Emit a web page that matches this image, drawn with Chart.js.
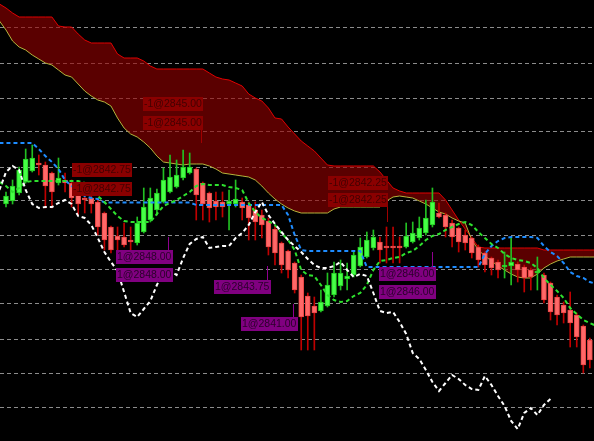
<!DOCTYPE html>
<html>
<head>
<meta charset="utf-8">
<script src="https://cdn.jsdelivr.net/npm/chart.js@4.4.1/dist/chart.umd.min.js"></script>
<style>
  html, body { margin: 0; padding: 0; background: #000; }
  #wrap { width: 594px; height: 441px; }
</style>
</head>
<body>
<div id="wrap"><canvas id="chart" width="594" height="441"></canvas></div>
<script>
// Candles (one per bar, index 0..89)
const open = [2845.92, 2845.98, 2846.14, 2846.36, 2846.58, 2846.74, 2846.70, 2846.54, 2846.34, 2846.40,
  2846.34, 2846.10, 2846.04, 2846.04, 2845.96, 2845.74, 2845.46, 2845.28, 2845.26, 2845.20,
  2845.14, 2845.36, 2845.60, 2845.80, 2845.96, 2846.16, 2846.26, 2846.44, 2846.54, 2846.62,
  2846.34, 2846.14, 2845.98, 2845.96, 2845.92, 2845.92, 2845.96, 2845.90, 2845.80, 2845.70,
  2845.58, 2845.42, 2845.14, 2844.98, 2844.74, 2844.46, 2844.08, 2843.88, 2843.78, 2843.88,
  2844.10, 2844.28, 2844.42, 2844.50, 2844.68, 2844.86, 2845.04, 2845.16, 2845.08, 2845.08,
  2845.08, 2845.06, 2845.16, 2845.24, 2845.34, 2845.50, 2845.74, 2845.70, 2845.54, 2845.44,
  2845.30, 2845.24, 2845.06, 2844.94, 2844.84, 2844.76, 2844.66, 2844.68, 2844.72, 2844.66,
  2844.60, 2844.54, 2844.50, 2844.34, 2844.06, 2843.90, 2843.80, 2843.70, 2843.48, 2843.20];
const high = [2846.16, 2846.40, 2846.66, 2847.02, 2847.10, 2846.90, 2846.76, 2846.56, 2846.84, 2846.54,
  2846.40, 2846.20, 2846.16, 2846.10, 2846.04, 2845.76, 2845.48, 2845.46, 2845.54, 2845.46,
  2845.66, 2846.24, 2846.24, 2846.22, 2846.64, 2846.90, 2846.80, 2847.00, 2846.94, 2846.64,
  2846.36, 2846.16, 2846.16, 2846.16, 2846.20, 2846.40, 2846.04, 2845.96, 2845.96, 2845.80,
  2845.64, 2845.48, 2845.16, 2845.00, 2844.76, 2844.50, 2844.14, 2844.06, 2844.20, 2844.54,
  2844.76, 2844.80, 2844.74, 2844.96, 2845.24, 2845.36, 2845.40, 2845.26, 2845.46, 2845.46,
  2845.26, 2845.54, 2845.56, 2845.66, 2846.00, 2846.24, 2845.94, 2845.74, 2845.60, 2845.46,
  2845.40, 2845.26, 2845.10, 2844.96, 2844.86, 2844.80, 2844.96, 2845.24, 2844.76, 2844.70,
  2844.64, 2844.86, 2844.54, 2844.36, 2844.10, 2843.96, 2844.16, 2843.74, 2843.50, 2843.24];
const low = [2845.86, 2845.92, 2846.10, 2846.34, 2846.56, 2846.50, 2845.84, 2845.84, 2846.30, 2846.16,
  2845.86, 2845.70, 2845.74, 2845.74, 2845.30, 2845.00, 2844.94, 2844.94, 2845.06, 2845.00,
  2845.10, 2845.34, 2845.56, 2845.70, 2845.94, 2846.14, 2846.24, 2846.40, 2846.52, 2845.60,
  2845.60, 2845.56, 2845.60, 2845.66, 2845.40, 2845.86, 2845.60, 2845.20, 2845.20, 2845.24,
  2844.90, 2844.70, 2844.54, 2844.44, 2844.14, 2843.00, 2843.00, 2843.00, 2843.76, 2843.86,
  2844.06, 2844.20, 2844.20, 2844.46, 2844.66, 2844.84, 2845.00, 2844.74, 2844.74, 2844.74,
  2844.74, 2845.04, 2845.14, 2845.20, 2845.30, 2845.46, 2845.64, 2845.26, 2845.06, 2844.96,
  2845.00, 2844.84, 2844.66, 2844.56, 2844.50, 2844.44, 2844.44, 2844.30, 2844.36, 2844.16,
  2844.20, 2844.20, 2843.94, 2843.60, 2843.50, 2843.54, 2843.06, 2843.06, 2842.54, 2842.64];
const close = [2846.08, 2846.28, 2846.60, 2846.82, 2846.84, 2846.70, 2846.28, 2846.16, 2846.44, 2846.34,
  2846.04, 2845.92, 2846.00, 2845.92, 2845.46, 2845.20, 2845.00, 2845.20, 2845.10, 2845.16,
  2845.54, 2845.86, 2846.04, 2846.14, 2846.40, 2846.46, 2846.50, 2846.66, 2846.66, 2846.10,
  2845.92, 2845.84, 2845.86, 2845.86, 2845.98, 2846.02, 2845.84, 2845.64, 2845.56, 2845.50,
  2845.06, 2844.94, 2844.70, 2844.60, 2844.20, 2843.66, 2843.68, 2843.74, 2843.96, 2844.30,
  2844.54, 2844.54, 2844.48, 2844.90, 2845.06, 2845.20, 2845.26, 2845.00, 2845.04, 2845.04,
  2845.04, 2845.28, 2845.34, 2845.44, 2845.64, 2845.96, 2845.66, 2845.46, 2845.26, 2845.16,
  2845.14, 2844.94, 2844.80, 2844.70, 2844.64, 2844.60, 2844.70, 2844.76, 2844.60, 2844.44,
  2844.46, 2844.56, 2844.00, 2843.76, 2843.70, 2843.74, 2843.54, 2843.26, 2842.70, 2842.80];

// Ichimoku lines, first value sits at bar index -1
const lineStart = -1;
const tenkan = [2846.36, 2846.28, 2846.16, 2846.24, 2846.36, 2846.38, 2846.38, 2846.38, 2846.38, 2846.38,
  2846.38, 2846.38, 2846.38, 2846.34, 2846.20, 2846.08, 2845.96, 2845.82, 2845.68, 2845.58,
  2845.56, 2845.56, 2845.56, 2845.56, 2845.72, 2845.88, 2845.94, 2846.00, 2846.08, 2846.16,
  2846.28, 2846.32, 2846.30, 2846.30, 2846.30, 2846.26, 2846.24, 2846.20, 2845.94, 2845.76,
  2845.64, 2845.58, 2845.50, 2845.34, 2845.20, 2845.00, 2844.60, 2844.50, 2844.48, 2844.30,
  2844.10, 2844.00, 2843.96, 2843.98, 2844.08, 2844.14, 2844.30, 2844.60, 2844.78, 2844.80,
  2844.84, 2844.86, 2844.94, 2844.98, 2845.08, 2845.20, 2845.28, 2845.32, 2845.40, 2845.46,
  2845.52, 2845.56, 2845.50, 2845.36, 2845.24, 2845.12, 2845.04, 2844.92, 2844.84, 2844.80,
  2844.78, 2844.74, 2844.64, 2844.44, 2844.30, 2844.18, 2844.04, 2843.84, 2843.72, 2843.60,
  2843.54, 2843.48];
const kijun = [2847.14, 2847.14, 2847.14, 2847.14, 2847.14, 2847.14, 2847.02, 2846.88, 2846.76, 2846.62,
  2846.40, 2846.28, 2846.18, 2846.08, 2846.04, 2846.02, 2845.95, 2845.95, 2845.95, 2845.95,
  2845.95, 2845.95, 2845.95, 2845.95, 2845.95, 2845.95, 2845.95, 2845.95, 2845.95, 2845.95,
  2845.90, 2845.90, 2845.90, 2845.90, 2845.90, 2845.90, 2845.90, 2845.90, 2845.90, 2845.90,
  2845.90, 2845.90, 2845.90, 2845.90, 2845.70, 2845.30, 2845.00, 2844.98, 2844.98, 2844.98,
  2844.98, 2844.98, 2844.98, 2844.98, 2844.98, 2844.98, 2844.66, 2844.66, 2844.66, 2844.66,
  2844.66, 2844.66, 2844.66, 2844.66, 2844.66, 2844.66, 2844.66, 2844.66, 2844.66, 2844.66,
  2844.66, 2844.66, 2844.66, 2844.66, 2844.92, 2845.08, 2845.18, 2845.24, 2845.26, 2845.26,
  2845.26, 2845.26, 2845.24, 2845.08, 2844.96, 2844.88, 2844.74, 2844.56, 2844.48, 2844.44,
  2844.36, 2844.32];
const senkouA = [2849.92, 2849.84, 2849.74, 2849.66, 2849.66, 2849.66, 2849.66, 2849.66, 2849.66, 2849.48,
  2849.46, 2849.46, 2849.32, 2849.20, 2849.14, 2849.14, 2849.14, 2849.14, 2848.92, 2848.84,
  2848.84, 2848.84, 2848.78, 2848.68, 2848.62, 2848.62, 2848.62, 2848.62, 2848.62, 2848.62,
  2848.62, 2848.62, 2848.54, 2848.46, 2848.42, 2848.40, 2848.34, 2848.28, 2848.12, 2848.04,
  2847.98, 2847.84, 2847.64, 2847.62, 2847.46, 2847.32, 2847.18, 2847.08, 2846.98, 2846.84,
  2846.70, 2846.68, 2846.68, 2846.68, 2846.68, 2846.68, 2846.68, 2846.68, 2846.56, 2846.40,
  2846.24, 2846.18, 2846.14, 2846.14, 2846.14, 2846.14, 2846.14, 2846.14, 2846.00, 2845.80,
  2845.60, 2845.42, 2845.24, 2845.06, 2845.04, 2845.04, 2845.04, 2845.04, 2845.04, 2845.04,
  2845.04, 2845.04, 2845.04, 2845.00, 2845.00, 2845.00, 2845.00, 2845.00, 2845.00, 2845.00,
  2845.00, 2845.00];
const senkouB = [2849.58, 2849.40, 2849.18, 2849.06, 2849.00, 2848.90, 2848.82, 2848.74, 2848.70, 2848.60,
  2848.50, 2848.46, 2848.32, 2848.18, 2848.08, 2848.00, 2847.96, 2847.88, 2847.64, 2847.44,
  2847.32, 2847.26, 2847.16, 2847.04, 2846.88, 2846.76, 2846.74, 2846.72, 2846.70, 2846.72,
  2846.72, 2846.72, 2846.68, 2846.62, 2846.54, 2846.52, 2846.50, 2846.48, 2846.46, 2846.40,
  2846.28, 2846.14, 2846.02, 2845.92, 2845.84, 2845.78, 2845.74, 2845.74, 2845.74, 2845.74,
  2845.74, 2845.82, 2845.86, 2845.86, 2845.86, 2845.86, 2845.86, 2845.86, 2845.86, 2845.98,
  2846.06, 2846.08, 2846.06, 2846.04, 2845.98, 2845.92, 2845.84, 2845.76, 2845.72, 2845.64,
  2845.58, 2845.54, 2845.20, 2845.00, 2844.88, 2844.78, 2844.68, 2844.60, 2844.52, 2844.46,
  2844.44, 2844.44, 2844.52, 2844.64, 2844.72, 2844.78, 2844.82, 2844.86, 2844.86, 2844.86,
  2844.86, 2844.86];
const chikou = [2846.20, 2846.56, 2846.68, 2846.60, 2846.20, 2845.92, 2845.84, 2845.86, 2845.86, 2845.94,
  2846.00, 2845.92, 2845.68, 2845.64, 2845.50, 2845.24, 2844.96, 2844.76, 2844.58, 2844.16,
  2843.74, 2843.66, 2843.82, 2843.98, 2844.30, 2844.56, 2844.58, 2844.50, 2844.84, 2845.12,
  2845.22, 2845.26, 2845.04, 2845.06, 2845.08, 2845.08, 2845.24, 2845.34, 2845.50, 2845.76,
  2845.96, 2845.70, 2845.52, 2845.36, 2845.20, 2845.08, 2844.96, 2844.82, 2844.70, 2844.64,
  2844.64, 2844.68, 2844.76, 2844.60, 2844.46, 2844.52, 2844.48, 2844.14, 2843.78, 2843.74,
  2843.76, 2843.56, 2843.32, 2842.94, 2842.82, 2842.60, 2842.36, 2842.18, 2842.34, 2842.50,
  2842.42, 2842.30, 2842.22, 2842.20, 2842.48, 2842.30, 2842.08, 2841.88, 2841.58, 2841.42,
  2841.74, 2841.84, 2841.70, 2841.90, 2842.02];

// Horizontal grid levels and visible price window
const gridPrices = [2849.44, 2848.74, 2848.04, 2847.36, 2846.66, 2845.98, 2845.28, 2844.60, 2843.92, 2843.22, 2842.52, 2841.84];
const yMin = 2841.18, yMax = 2850.00;
const xMin = -0.915, xMax = 89.63;

// Trade labels: box left (bar index), box top (price), text, kind
const labelText  = ['-1@2845.00', '-1@2845.00', '-1@2842.75', '-1@2842.75', '-1@2842.25', '-1@2842.25',
                    '1@2848.00', '1@2848.00', '1@2843.75', '1@2841.00', '1@2846.00', '1@2846.00'];
const labelIndex = [20.9, 20.9, 10.1, 10.1, 49.1, 49.1, 16.8, 16.8, 31.7, 35.8, 56.9, 56.9];
const labelPrice = [2848.06, 2847.68, 2846.74, 2846.36, 2846.48, 2846.14, 2845.00, 2844.64, 2844.40, 2843.66, 2844.66, 2844.30];
const labelSell  = [true, true, true, true, true, true, false, false, false, false, false, false];

// Thin connector lines of the trade labels
const stemIndex  = [29.7, 58.1, 24.7, 39.8, 43.75, 64.9];
const stemTop    = [2847.42, 2845.86, 2845.26, 2844.68, 2843.92, 2844.96];
const stemBottom = [2847.14, 2845.56, 2844.98, 2844.40, 2843.66, 2844.66];
const stemSell   = [true, true, false, false, false, false];

const isUp = open.map((o, i) => close[i] >= o);
const series = arr => arr.map((v, k) => ({ x: lineStart + k, y: v }));

const tradeLabels = {
    id: 'tradeLabels',
    afterDatasetsDraw(chart) {
        const ctx = chart.ctx;
        const xs = chart.scales.x, ys = chart.scales.y;
        ctx.save();
        ctx.lineWidth = 1;
        for (let i = 0; i < stemIndex.length; i++) {
            const px = Math.round(xs.getPixelForValue(stemIndex[i])) + 0.5;
            ctx.strokeStyle = stemSell[i] ? '#a00000' : '#900090';
            ctx.beginPath();
            ctx.moveTo(px, ys.getPixelForValue(stemTop[i]));
            ctx.lineTo(px, ys.getPixelForValue(stemBottom[i]));
            ctx.stroke();
        }
        ctx.font = '10.5px "Liberation Sans", Arial, sans-serif';
        ctx.textBaseline = 'middle';
        for (let i = 0; i < labelText.length; i++) {
            const px = Math.round(xs.getPixelForValue(labelIndex[i]));
            const py = Math.round(ys.getPixelForValue(labelPrice[i]));
            const w = Math.ceil(ctx.measureText(labelText[i]).width) + 2;
            ctx.fillStyle = labelSell[i] ? '#8a0000' : '#800080';
            ctx.fillRect(px, py, w, 14);
            ctx.fillStyle = labelSell[i] ? '#420000' : '#2a002a';
            ctx.fillText(labelText[i], px + 1, py + 7.5);
        }
        ctx.restore();
    }
};

const context = document.getElementById('chart').getContext('2d');
const chart = new Chart(context, {
    type: 'bar',
    data: {
        datasets: [
            {
                type: 'line', label: 'Chikou', data: series(chikou),
                borderColor: '#ffffff', borderWidth: 2, borderDash: [4, 3],
                pointRadius: 0, fill: false, order: 1
            },
            {
                type: 'line', label: 'Tenkan', data: series(tenkan),
                borderColor: '#2ee02e', borderWidth: 2, borderDash: [4, 3],
                pointRadius: 0, fill: false, order: 1
            },
            {
                type: 'line', label: 'Kijun', data: series(kijun),
                borderColor: '#1e8cff', borderWidth: 2, borderDash: [4, 3],
                pointRadius: 0, fill: false, order: 1
            },
            {
                label: 'Body', data: open.map((o, i) => ({ x: i, y: [o, close[i]] })),
                backgroundColor: isUp.map(u => u ? '#46ff46' : '#ff6868'),
                borderColor: isUp.map(u => u ? '#20c820' : '#e84444'),
                borderWidth: 1, borderSkipped: false, barThickness: 5,
                minBarLength: 2, grouped: false, order: 2
            },
            {
                label: 'Wick', data: low.map((l, i) => ({ x: i, y: [l, high[i]] })),
                backgroundColor: isUp.map(u => u ? '#22c022' : '#c00000'),
                borderWidth: 0, barThickness: 1, grouped: false, order: 3
            },
            {
                type: 'line', label: 'Senkou A', data: series(senkouA),
                borderColor: '#e00000', borderWidth: 1, pointRadius: 0,
                fill: '+1', backgroundColor: 'rgba(150,0,0,0.6)', order: 5
            },
            {
                type: 'line', label: 'Senkou B', data: series(senkouB),
                borderColor: '#b4b43c', borderWidth: 1, pointRadius: 0,
                fill: false, order: 4
            }
        ]
    },
    options: {
        responsive: false,
        animation: false,
        devicePixelRatio: 1,
        layout: { padding: 0, autoPadding: false },
        plugins: { legend: { display: false }, tooltip: { enabled: false } },
        scales: {
            x: { type: 'linear', min: xMin, max: xMax, offset: false, display: false },
            y: {
                min: yMin, max: yMax,
                afterBuildTicks: axis => { axis.ticks = gridPrices.map(v => ({ value: v })); },
                ticks: { display: false },
                grid: { color: '#8c8c8c', lineWidth: 1, drawTicks: false },
                border: { display: false, dash: [4, 3] }
            }
        }
    },
    plugins: [tradeLabels]
});
</script>
</body>
</html>
